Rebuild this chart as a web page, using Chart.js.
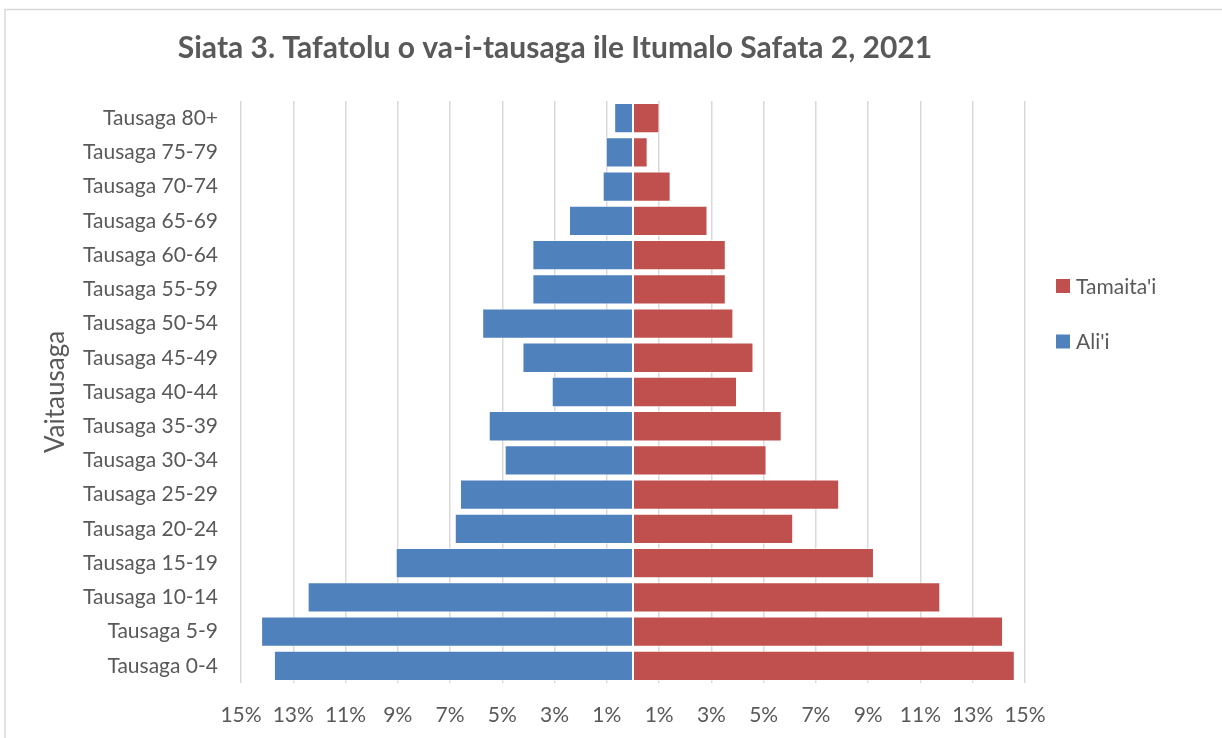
<!DOCTYPE html>
<html>
<head>
<meta charset="utf-8">
<script src="https://cdn.jsdelivr.net/npm/chart.js@4.4.0/dist/chart.umd.min.js"></script>
<style>
  body { margin: 0; background: #fff; }
  #wrap { width: 1222px; height: 738px; }
</style>
</head>
<body>
<div id="wrap"><canvas id="myChart" width="1222" height="738"></canvas></div>
<script>
const ageGroups = [
  "Tausaga 80+", "Tausaga 75-79", "Tausaga 70-74", "Tausaga 65-69", "Tausaga 60-64",
  "Tausaga 55-59", "Tausaga 50-54", "Tausaga 45-49", "Tausaga 40-44", "Tausaga 35-39",
  "Tausaga 30-34", "Tausaga 25-29", "Tausaga 20-24", "Tausaga 15-19", "Tausaga 10-14",
  "Tausaga 5-9", "Tausaga 0-4",
];
// Ali'i drawn to the left, so stored negative
const aliiValues = [
  -0.72, -1.04, -1.16, -2.45, -3.85, -3.85, -5.77, -4.23, -3.11, -5.52,
  -4.91, -6.62, -6.82, -9.08, -12.45, -14.23, -13.74,
];
const tamaitaiValues = [
  1.01, 0.56, 1.44, 2.85, 3.55, 3.55, 3.84, 4.61, 3.98, 5.69,
  5.11, 7.89, 6.13, 9.22, 11.76, 14.16, 14.61,
];
const xTicks = [-15, -13, -11, -9, -7, -5, -3, -1, 1, 3, 5, 7, 9, 11, 13, 15];

const chartTitle = "Siata 3. Tafatolu o va-i-tausaga ile Itumalo Safata 2, 2021";
const textColor = "#595959";
const ctx = document.getElementById("myChart");

// frame, title and legend drawn by hand so they sit where Excel put them
const decor = {
  id: "decor",
  beforeDraw: (chart) => {
    const c = chart.ctx;
    c.save();
    c.fillStyle = "#fff";
    c.fillRect(0, 0, chart.width, chart.height);
    c.strokeStyle = "#D9D9D9";
    c.lineWidth = 1.5;
    c.strokeRect(5, 9.5, 1400, 900);
    c.restore();
  },
  afterDraw: (chart) => {
    const c = chart.ctx;
    c.save();
    c.fillStyle = textColor;
    c.font = "bold 30px Lato";
    c.textAlign = "center";
    c.textBaseline = "middle";
    c.fillText(chartTitle, 555, 48);

    c.font = "21px Lato";
    c.textAlign = "left";
    const items = [chart.data.datasets[1], chart.data.datasets[0]];
    const ys = [286, 341.5];
    items.forEach((ds, i) => {
      c.fillStyle = ds.backgroundColor;
      c.fillRect(1056, ys[i] - 7, 14, 14);
      c.fillStyle = textColor;
      c.fillText(ds.label, 1076, ys[i] + 1);
    });
    c.restore();
  },
};

const chart = new Chart(ctx, {
  type: "bar",
  data: {
    labels: ageGroups,
    datasets: [
      {
        label: "Ali'i",
        data: aliiValues,
        backgroundColor: "#4F81BD",
        borderColor: "rgba(255,255,255,0.55)",
        borderWidth: 1,
        borderSkipped: false,
        barPercentage: 0.885,
        categoryPercentage: 1,
      },
      {
        label: "Tamaita'i",
        data: tamaitaiValues,
        backgroundColor: "#C0504D",
        borderColor: "rgba(255,255,255,0.55)",
        borderWidth: 1,
        borderSkipped: false,
        barPercentage: 0.885,
        categoryPercentage: 1,
      },
    ],
  },
  options: {
    indexAxis: "y",
    responsive: false,
    animation: false,
    layout: {
      padding: { left: 38, right: 197, top: 101, bottom: 12 },
    },
    plugins: {
      legend: { display: false },
      title: { display: false },
      tooltip: { enabled: false },
    },
    scales: {
      x: {
        stacked: true,
        min: -15,
        max: 15,
        afterBuildTicks: (scale) => {
          scale.ticks = xTicks.map((v) => ({ value: v }));
        },
        afterFit: (scale) => {
          scale.height = 43;
        },
        grid: { color: "#D9D9D9", lineWidth: 1.5, drawTicks: false },
        border: { display: false },
        ticks: {
          padding: 20,
          color: textColor,
          font: { family: "Lato", size: 21 },
          callback: (v) => Math.abs(v) + "%",
        },
      },
      y: {
        stacked: true,
        grid: { display: false, drawTicks: false },
        border: { display: false },
        afterFit: (scale) => {
          scale.width = 203;
        },
        ticks: {
          padding: 23,
          color: textColor,
          font: { family: "Lato", size: 21 },
        },
        title: {
          display: true,
          text: "Vaitausaga",
          color: textColor,
          font: { family: "Lato", size: 26 },
          padding: { top: 2, bottom: 0 },
        },
      },
    },
  },
  plugins: [decor],
});
</script>
</body>
</html>
